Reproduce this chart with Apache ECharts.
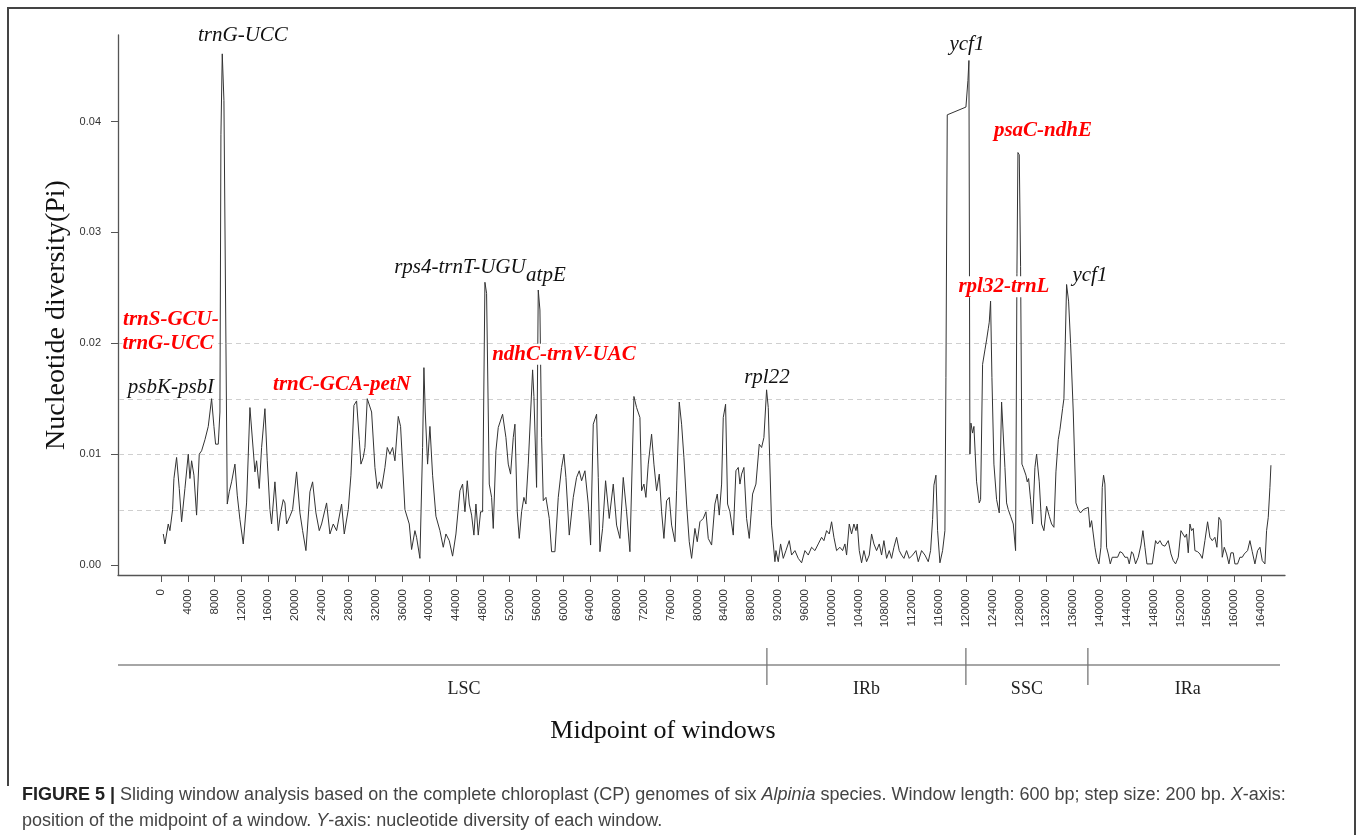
<!DOCTYPE html>
<html>
<head>
<meta charset="utf-8">
<script src="https://cdn.jsdelivr.net/npm/echarts@6/dist/echarts.min.js"></script>
<style>
html,body{margin:0;padding:0;background:#fff;}
#chart{width:1357px;height:835px;}
</style>
</head>
<body>
<div id="chart"></div>
<script>
// ---- DATA ----
// Large single copy (LSC), first part
const lscPos1 = [348,597,1094,1342,1740,1938,2336,2734,3082,3579,4076,4324,4573,4920,5318,5716,6064,6561,7058,7554,7902,8151,8549,8797,8946,9145,9393,9692,9890,10189,10537,11034,11381,11779,12276,12773,13270,13519,14016,14264,14662,15010,15507,15854,16252,16501,16998,17495,17842,18240,18489,18737,19234,19632,20228,20725,21123,21620,22216,22614,23111,23608,23956,24701,25198,25695,26192,26938,27335,27932,28329,28776,29174,29572,29820,30168,30417,30764,31411,31908,32255,32554,32902,33399,33746,34144,34542,34890,35387,35734,36381,37027,37375,37872,38120,38617,39015,39213,39412,39760,40108,40506,41003,41599,42096,42494,42991,43488,43985];
const lscPi1 = [.0028,.0019,.0037,.0031,.0050,.0078,.0097,.0069,.0039,.0069,.0100,.0078,.0094,.0081,.0045,.0100,.0103,.0113,.0125,.0150,.0125,.0109,.0109,.0138,.0388,.0461,.0419,.0200,.0055,.0066,.0075,.0091,.0063,.0041,.0019,.0056,.0142,.0141,.0084,.0094,.0069,.0106,.0141,.0094,.0050,.0037,.0075,.0031,.0047,.0059,.0056,.0037,.0044,.0050,.0084,.0047,.0031,.0013,.0066,.0075,.0047,.0031,.0037,.0056,.0028,.0037,.0031,.0055,.0028,.0050,.0081,.0144,.0148,.0113,.0091,.0097,.0106,.0150,.0138,.0088,.0069,.0075,.0069,.0088,.0106,.0100,.0106,.0094,.0134,.0125,.0050,.0037,.0014,.0031,.0025,.0006,.0106,.0178,.0138,.0091,.0125,.0081,.0044,.0031,.0016,.0028,.0022,.0008,.0028];
// LSC, second part
const lscPos2 = [44581,44979,45327,45674,45973,46321,46668,46967,47315,47662,47961,48309,48557,48955,49303,49551,49949,50297,50943,51440,51788,52135,52533,52782,53129,53427,53775,54123,54422,54770,55417,55614,56012,56261,56509,56758,57006,57404,57901,58249,58746,59243,59740,60087,60386,60883,61479,61976,62374,62722,63219,63467,63716,64063,64461,64710,64958,65207,65455,65853,66300,66847,67443,67940,68437,68934,69431,69928,70525,70922,71419,71668,72015,72313,72661,73158,73506,73904,74302,74650,74997,75395,75793,76141,76638,76886,77284,77632,77979,78377,78775,79123,79620,79967,80365,80862,81260,81608,82105,82602,82949,83248,83596,83844,84192,84490,84838,85335,85733,86081,86329,86578,86925,87323,87721,88218,88715,89212,89560,89907,90305,90553,91050,91548];
const lscPi2 = [.0067,.0073,.0048,.0076,.0055,.0045,.0027,.0055,.0027,.0048,.0048,.0255,.0245,.0073,.0061,.0033,.0103,.0124,.0136,.0115,.0091,.0082,.0115,.0127,.0048,.0024,.0048,.0061,.0055,.0091,.0176,.0152,.0070,.0248,.0230,.0115,.0058,.0061,.0042,.0012,.0012,.0061,.0088,.0100,.0079,.0027,.0061,.0079,.0085,.0076,.0085,.0085,.0055,.0018,.0127,.0127,.0136,.0079,.0012,.0033,.0076,.0042,.0073,.0036,.0024,.0079,.0048,.0012,.0152,.0142,.0133,.0067,.0073,.0061,.0091,.0118,.0091,.0067,.0082,.0048,.0024,.0058,.0061,.0036,.0021,.0067,.0147,.0127,.0097,.0055,.0021,.0006,.0033,.0021,.0039,.0042,.0048,.0024,.0018,.0055,.0064,.0045,.0073,.0133,.0145,.0055,.0048,.0027,.0085,.0088,.0073,.0082,.0088,.0042,.0024,.0064,.0073,.0109,.0106,.0115,.0158,.0142,.0036,.0003];
// Inverted repeat b (IRb)
const irbPos = [91697,92045,92392,92790,93188,93685,94033,94530,95027,95524,96021,96518,97015,97512,98009,98506,98853,99251,99649,99997,100344,100742,101239,101637,101985,102233,102631,102979,103326,103625,103823,104122,104470,104817,105215,105613,105961,106308,106706,107104,107452,107799,108197,108595,108943,109290,109688,110086,110434,110781,111179,111577,112074,112571,112919,113416,113913,114410,114757,115056,115254,115553,115801,116149,116547,116895,117044,117242];
const irbPi = [.0013,.0003,.0019,.0006,.0013,.0022,.0009,.0013,.0006,.0002,.0013,.0009,.0016,.0013,.0019,.0025,.0022,.0031,.0028,.0039,.0025,.0013,.0016,.0013,.0019,.0009,.0037,.0028,.0037,.0031,.0037,.0013,.0002,.0013,.0003,.0009,.0028,.0019,.0013,.0019,.0009,.0022,.0006,.0013,.0006,.0016,.0025,.0013,.0009,.0006,.0013,.0006,.0009,.0013,.0003,.0013,.0009,.0003,.0013,.0041,.0072,.0081,.0031,.0002,.0013,.0031,.0169,.0406];
// Small single copy (SSC)
const sscPos = [120026,120224,120324,120473,120622,120771,121020,121218,121616,122014,122213,122511,122859,123107,123356,123505,123703,123902,124200,124598,124996,125344,125592,125841,126089,126338,126685,127083,127431,127630,127779,127978,128176,128375,128574,128972,129170,129369,129667,129966,130314,130562,130960,131308,131655,132053,132451,132799,133146,133445,133793,134041,134439,134637,134836,135035,135333,135631,136029,136427,136775,137122,137520,138265];
const sscPi = [.0413,.0414,.0437,.0455,.0100,.0128,.0119,.0125,.0075,.0056,.0059,.0181,.0194,.0203,.0213,.0219,.0238,.0169,.0091,.0059,.0047,.0147,.0147,.0088,.0056,.0050,.0044,.0037,.0013,.0263,.0372,.0370,.0269,.0091,.0088,.0081,.0075,.0078,.0059,.0037,.0088,.0100,.0075,.0037,.0031,.0053,.0044,.0037,.0034,.0084,.0113,.0122,.0141,.0150,.0200,.0253,.0238,.0200,.0138,.0056,.0050,.0047,.0050,.0052];
// Inverted repeat a (IRa)
const iraPos = [138514,138762,139011,139259,139508,139855,140154,140352,140551,140750,140999,141247,141545,141843,142241,142639,142987,143334,143732,144130,144378,144726,144975,145322,145720,146118,146416,146714,147012,147460,147807,148304,148603,148951,149298,149696,150193,150591,150939,151286,151684,152082,152380,152678,152927,153175,153424,153672,153921,154169,154567,154915,155262,155660,156058,156406,156753,157151,157449,157747,158046,158244,158543,158891,159238,159537,159885,160133,160531,160879,161226,161525,162022,162370,162717,163115,163513,163861,164208,164606,164855,165103,165352,165501];
const iraPi = [.0034,.0040,.0028,.0016,.0007,.0001,.0016,.0070,.0081,.0073,.0016,.0010,.0001,.0007,.0007,.0007,.0012,.0011,.0007,.0007,.0001,.0012,.0010,.0001,.0007,.0018,.0031,.0016,.0001,.0001,.0001,.0022,.0019,.0022,.0018,.0017,.0022,.0010,.0004,.0001,.0007,.0031,.0028,.0025,.0028,.0011,.0037,.0031,.0033,.0013,.0012,.0010,.0006,.0022,.0039,.0025,.0022,.0025,.0016,.0043,.0040,.0007,.0016,.0010,.0001,.0011,.0011,.0001,.0001,.0007,.0007,.0010,.0013,.0022,.0012,.0001,.0013,.0016,.0004,.0001,.0031,.0043,.0070,.0090];

// Tick labels
const xTicks = [];
for (let v = 0; v <= 164000; v += 4000) xTicks.push(v);
const yTicks = [0, 0.01, 0.02, 0.03, 0.04];
const gridValues = [0.005, 0.01, 0.015, 0.02];

// Genome regions
const regionNames = ['LSC', 'IRb', 'SSC', 'IRa'];
const regionEdges = [0, 90350, 120020, 138210, 168000];

// Peak annotations: [text, position, Pi level where the label sits, highlighted]
const peakLabels = [
  ['trnG-UCC', 12226, 0.0478, false],
  ['psbK-psbI', 1491, 0.0160, false],
  ['rps4-trnT-UGU', 44581, 0.0268, false],
  ['atpE', 57404, 0.0261, false],
  ['rpl22', 90355, 0.0169, false],
  ['ycf1', 120175, 0.0469, false],
  ['ycf1', 138514, 0.0261, false],
  ['trnS-GCU-', 1491, 0.0221, true],
  ['trnG-UCC', 1044, 0.0200, true],
  ['trnC-GCA-petN', 26987, 0.0163, true],
  ['ndhC-trnV-UAC', 60087, 0.0190, true],
  ['rpl32-trnL', 125691, 0.0251, true],
  ['psaC-ndhE', 131506, 0.0392, true]
];

// ---- BUILD ----
function zip(a, b) { return a.map((v, i) => [v, b[i]]); }
const seriesData = [].concat(zip(lscPos1, lscPi1), zip(lscPos2, lscPi2), zip(irbPos, irbPi), zip(sscPos, sscPi), zip(iraPos, iraPi));

const chart = echarts.init(document.getElementById('chart'), null, {renderer: 'canvas'});
const SERIF = '"Liberation Serif", "DejaVu Serif", serif';
const SANS = '"Liberation Sans", Arial, sans-serif';

chart.setOption({
  animation: false,
  backgroundColor: '#fff',
  grid: {left: 118, top: 35, width: 1167, height: 540, containLabel: false},
  xAxis: {
    type: 'value', min: -6400, max: 167600,
    axisLine: {show: true, onZero: false, lineStyle: {color: '#555', width: 1.3}},
    axisTick: {show: true, customValues: xTicks, length: 7, lineStyle: {color: '#555', width: 1}},
    axisLabel: {customValues: xTicks, rotate: 90, margin: 14, fontSize: 11.5, fontFamily: SANS, color: '#333',
      formatter: v => String(Math.round(v))},
    splitLine: {show: false}
  },
  yAxis: {
    type: 'value', min: -0.0009, max: 0.0478,
    axisLine: {show: true, onZero: false, lineStyle: {color: '#555', width: 1.3}},
    axisTick: {show: true, customValues: yTicks, length: 7, lineStyle: {color: '#555', width: 1}},
    axisLabel: {customValues: yTicks, margin: 17, fontSize: 11, fontFamily: SANS, color: '#333',
      formatter: v => v.toFixed(2)},
    splitLine: {show: false}
  },
  series: [{
    type: 'line', data: seriesData, showSymbol: false, symbol: 'none',
    lineStyle: {color: '#333', width: 1}, z: 3
  }]
});

const g = [];
// Dashed reference lines, placed through the y scale and snapped to the pixel grid
const gx0 = chart.convertToPixel({xAxisIndex: 0}, -6400);
const gx1 = chart.convertToPixel({xAxisIndex: 0}, 167600);
gridValues.forEach(v => {
  const py = Math.round(chart.convertToPixel({yAxisIndex: 0}, v)) + 0.5;
  g.push({type: 'line', z: 1, silent: true, shape: {x1: gx0 + 1, y1: py, x2: gx1, y2: py},
    style: {stroke: '#cfcfcf', lineWidth: 1, lineDash: [5, 4]}});
});

// Y axis title
g.push({type: 'text', x: 57, y: 315, rotation: Math.PI / 2, style: {
  text: 'Nucleotide diversity(Pi)', x: 0, y: 0, textAlign: 'center', textVerticalAlign: 'middle',
  font: '28px ' + SERIF, fill: '#111'}});

// Peak annotations positioned through the chart's scales
peakLabels.forEach(([t, x, y, hi]) => {
  const p = chart.convertToPixel({gridIndex: 0}, [x, y]);
  const st = {
    text: t, x: p[0], y: p[1], textAlign: 'center', textVerticalAlign: 'middle',
    font: (hi ? 'italic bold 21px ' : 'italic 21px ') + SERIF, fill: hi ? '#ff0000' : '#111'
  };
  if (hi) st.backgroundColor = '#fff';
  g.push({type: 'text', z: 10, style: st});
});

// Region bar
const barY = 665;
g.push({type: 'line', shape: {x1: 118, y1: barY, x2: 1280, y2: barY}, style: {stroke: '#888', lineWidth: 1.6}});
for (let i = 1; i < regionEdges.length - 1; i++) {
  const px = chart.convertToPixel({xAxisIndex: 0}, regionEdges[i]);
  g.push({type: 'line', shape: {x1: px, y1: barY - 17, x2: px, y2: barY + 20}, style: {stroke: '#777', lineWidth: 1.3}});
}
regionNames.forEach((n, i) => {
  const c = chart.convertToPixel({xAxisIndex: 0}, (regionEdges[i] + regionEdges[i + 1]) / 2);
  g.push({type: 'text', style: {text: n, x: c, y: barY + 24, textAlign: 'center', textVerticalAlign: 'middle',
    font: '18px ' + SERIF, fill: '#222'}});
});

// X axis title
g.push({type: 'text', style: {text: 'Midpoint of windows', x: 663, y: 731, textAlign: 'center', textVerticalAlign: 'middle',
  font: '26px ' + SERIF, fill: '#111'}});

// Figure frame
g.push({type: 'polyline', shape: {points: [[8, 786], [8, 8], [1355, 8], [1355, 835]]}, style: {stroke: '#444', lineWidth: 2, fill: null}});

// Caption
const capStyle = {
  b: {font: 'bold 18px ' + SANS, fill: '#222'},
  n: {font: '18px ' + SANS, fill: '#444'},
  i: {font: 'italic 18px ' + SANS, fill: '#444'}
};
g.push({type: 'text', style: {
  text: '{b|FIGURE 5 |}{n| Sliding window analysis based on the complete chloroplast (CP) genomes of six }{i|Alpinia}{n| species. Window length: 600 bp; step size: 200 bp. }{i|X}{n|-axis:}',
  x: 22, y: 795, textVerticalAlign: 'middle', rich: capStyle
}});
g.push({type: 'text', style: {
  text: '{n|position of the midpoint of a window. }{i|Y}{n|-axis: nucleotide diversity of each window.}',
  x: 22, y: 821, textVerticalAlign: 'middle', rich: capStyle
}});

chart.setOption({graphic: g});
</script>
</body>
</html>
